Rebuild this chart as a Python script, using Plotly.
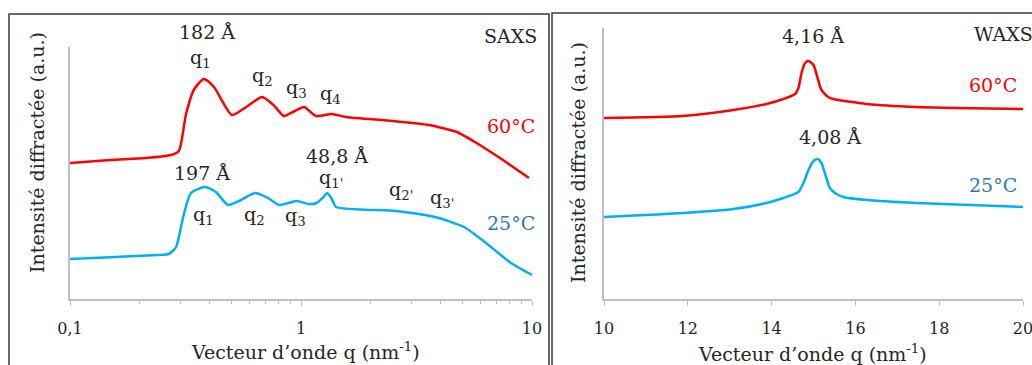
import plotly.graph_objects as go

W, H = 1032, 365

# ---------------- data ----------------
saxs_q_60 = [0.1, 0.15, 0.213, 0.274, 0.296, 0.318, 0.345, 0.38, 0.42, 0.502, 0.58, 0.678,
             0.76, 0.843, 0.94, 1.03, 1.16, 1.36, 1.57, 2.5, 3.58, 4.73, 5.66, 7.26, 9.7]
saxs_i_60 = [136, 139, 141, 144, 148, 185, 210, 220, 212, 184, 192, 202,
             194, 183, 188, 192, 183, 185, 182, 178, 174, 167, 157, 141, 121]

saxs_q_25 = [0.1, 0.157, 0.24, 0.268, 0.288, 0.309, 0.334, 0.384, 0.428, 0.483, 0.55, 0.633,
             0.72, 0.803, 0.88, 0.962, 1.08, 1.17, 1.24, 1.30, 1.36, 1.42, 2.58, 3.80, 5.08,
             6.32, 8.11, 10]
saxs_i_25 = [40, 42, 44, 45, 52, 82, 106, 112, 107, 94, 99, 106,
             101, 94, 96, 98, 95, 96, 101, 106, 100, 92, 88, 82, 72,
             56, 36, 24]

waxs_q_60 = [10, 11.89, 13.09, 13.88, 14.28, 14.56, 14.64, 14.72, 14.80, 14.88, 15.0, 15.11,
             15.19, 15.35, 15.47, 16.27, 17.46, 20]
waxs_i_60 = [181, 183, 189, 195, 200, 205, 211, 227, 236, 238, 234, 219,
             209, 202, 200, 195, 192, 190]

waxs_q_25 = [10, 11.89, 13.09, 13.88, 14.28, 14.64, 14.76, 14.88, 15.0, 15.10, 15.19, 15.30,
             15.39, 15.55, 15.71, 16.27, 17.46, 20]
waxs_i_25 = [82, 86, 90, 96, 101, 107, 116, 129, 138, 140, 136, 122,
             111, 105, 102, 99, 96, 92]

saxs_major_vals = [0.1, 1, 10]
saxs_major_text = ["0,1", "1", "10"]
saxs_minor_vals = [0.2, 0.3, 0.4, 0.5, 0.6, 0.7, 0.8, 0.9, 2, 3, 4, 5, 6, 7, 8, 9]
waxs_tick_vals = [10, 12, 14, 16, 18, 20]

RED = "#FF0000"
BLUE = "#00B0F0"
BLUE_TXT = "#2E75B6"
AXC = "#BFBFBF"
TXT = "#262626"
FONT = "DejaVu Serif"

def px(x):
    return x / W

def py(y):
    return 1 - y / H

fig = go.Figure()
line_kw = dict(shape="spline", smoothing=0.6)
fig.add_trace(go.Scatter(x=saxs_q_60, y=saxs_i_60, mode="lines",
                         line=dict(color=RED, width=2.5, **line_kw), xaxis="x", yaxis="y"))
fig.add_trace(go.Scatter(x=saxs_q_25, y=saxs_i_25, mode="lines",
                         line=dict(color=BLUE, width=2.5, **line_kw), xaxis="x", yaxis="y"))
fig.add_trace(go.Scatter(x=waxs_q_60, y=waxs_i_60, mode="lines",
                         line=dict(color=RED, width=2.5, **line_kw), xaxis="x2", yaxis="y2"))
fig.add_trace(go.Scatter(x=waxs_q_25, y=waxs_i_25, mode="lines",
                         line=dict(color=BLUE, width=2.5, **line_kw), xaxis="x2", yaxis="y2"))

tickfont = dict(family=FONT, size=16, color=TXT)

fig.update_layout(
    width=W, height=H, autosize=False,
    margin=dict(l=0, r=0, t=0, b=0, autoexpand=False),
    paper_bgcolor="white", plot_bgcolor="white",
    showlegend=False,
    font=dict(family=FONT, color=TXT),
    xaxis=dict(type="log", range=[-1, 1], domain=[px(70), px(532)], anchor="y",
               automargin=False,
               tickmode="array", tickvals=saxs_major_vals, ticktext=saxs_major_text,
               ticks="outside", ticklen=5, tickcolor=AXC, tickwidth=1,
               minor=dict(tickmode="array", tickvals=saxs_minor_vals, ticks="outside",
                          ticklen=3, tickcolor=AXC, showgrid=False),
               showline=True, linecolor=AXC, linewidth=1.5, showgrid=False, zeroline=False,
               tickfont=tickfont, ticklabelstandoff=9, ticklabeloverflow="allow"),
    yaxis=dict(range=[0, 252], domain=[py(299), py(47)], anchor="x", automargin=False,
               showline=True, linecolor=AXC, linewidth=1.5, showgrid=False,
               zeroline=False, showticklabels=False, ticks=""),
    xaxis2=dict(range=[10, 20], domain=[px(604), px(1023)], anchor="y2", automargin=False,
                tickmode="array", tickvals=waxs_tick_vals,
                ticks="outside", ticklen=5, tickcolor=AXC, tickwidth=1,
                showline=True, linecolor=AXC, linewidth=1.5, showgrid=False, zeroline=False,
                tickfont=tickfont, ticklabelstandoff=9, ticklabeloverflow="allow"),
    yaxis2=dict(range=[0, 271], domain=[py(299), py(28)], anchor="x2", automargin=False,
                showline=True, linecolor=AXC, linewidth=1.5, showgrid=False,
                zeroline=False, showticklabels=False, ticks=""),
)

# panel frames
fig.add_shape(type="rect", xref="paper", yref="paper",
              x0=px(9), x1=px(549), y0=-0.1, y1=py(14),
              line=dict(color="#3A3A3A", width=1.5), fillcolor="rgba(0,0,0,0)")
fig.add_shape(type="rect", xref="paper", yref="paper",
              x0=px(552), x1=1.1, y0=-0.1, y1=py(13),
              line=dict(color="#3A3A3A", width=1.5), fillcolor="rgba(0,0,0,0)")

def ann(text, x, y, size=19, color=TXT, xanchor="center", angle=0):
    fig.add_annotation(text=text, x=px(x), y=py(y), xref="paper", yref="paper",
                       showarrow=False, xanchor=xanchor, yanchor="middle",
                       textangle=angle, font=dict(family=FONT, size=size, color=color))

# axis titles
title_x = "Vecteur d’onde q (nm<sup>-1</sup>)"
title_y = "Intensité diffractée (a.u.)"
ann(title_x, 305, 351)
ann(title_x, 812, 353)
ann(title_y, 37, 153, angle=-90)
ann(title_y, 578, 163, angle=-90)

# SAXS labels
ann("SAXS", 539, 36, xanchor="right")
ann("182 Å", 207, 32)
ann("q<sub>1</sub>", 200, 58)
ann("q<sub>2</sub>", 262, 76)
ann("q<sub>3</sub>", 296, 88)
ann("q<sub>4</sub>", 330, 95)
ann("60°C", 537, 126, color=RED, xanchor="right")
ann("48,8 Å", 337, 156)
ann("197 Å", 202, 173)
ann("q<sub>1</sub>", 203, 215)
ann("q<sub>2</sub>", 254, 215)
ann("q<sub>3</sub>", 295, 216)
ann("q<sub>1'</sub>", 331, 178)
ann("q<sub>2'</sub>", 401, 190)
ann("q<sub>3'</sub>", 442, 198)
ann("25°C", 537, 223, color=BLUE_TXT, xanchor="right")

# WAXS labels
ann("WAXS", 972, 34, xanchor="left")
ann("4,16 Å", 813, 36)
ann("4,08 Å", 830, 137)
ann("60°C", 993, 85, color=RED)
ann("25°C", 993, 185, color=BLUE_TXT)

fig.write_html("out.html", config={"displayModeBar": False})

# remove the browser's default page margin so the figure sits at (0, 0)
with open("out.html", "r", encoding="utf-8") as f:
    html = f.read()
html = html.replace("<head>", "<head><style>html,body{margin:0;padding:0;overflow:hidden;}</style>", 1)
with open("out.html", "w", encoding="utf-8") as f:
    f.write(html)
